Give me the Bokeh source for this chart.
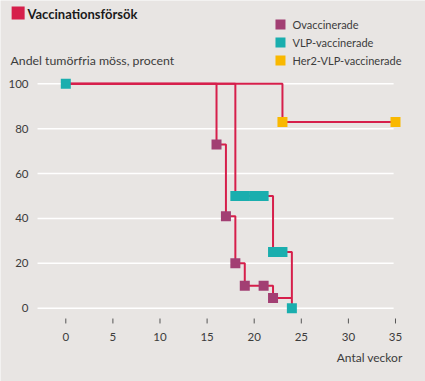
from bokeh.plotting import figure
from bokeh.models import Range1d
from bokeh.core.properties import value
from bokeh.embed import file_html
from bokeh.resources import INLINE

# ---- data ----
weeks_ovac = [0, 16, 17, 18, 19, 22, 24]
surv_ovac = [100, 73, 41, 20, 10, 4.5, 4.5]
mark_ovac_x = [16, 17, 18, 19, 21, 22]
mark_ovac_y = [73, 41, 20, 10, 10, 4.5]

weeks_vlp = [0, 18, 22, 24]
surv_vlp = [100, 50, 25, 0]
mark_vlp_x = [0, 18, 19, 20, 21, 22, 23, 24]
mark_vlp_y = [100, 50, 50, 50, 50, 25, 25, 0]

weeks_her2 = [0, 23, 35]
surv_her2 = [100, 83, 83]
mark_her2_x = [23, 35]
mark_her2_y = [83, 83]

x_ticks = [0, 5, 10, 15, 20, 25, 30, 35]
y_ticks = [0, 20, 40, 60, 80, 100]

series_names = ["Ovaccinerade", "VLP-vaccinerade", "Her2-VLP-vaccinerade"]
title_text = "Vaccinationsförsök"
y_title = "Andel tumörfria möss, procent"
x_title = "Antal veckor"

# ---- style ----
BG = "#e8e5e3"
LINE = "#d61f4b"
C_OVAC = "#a23f73"
C_VLP = "#1aaeae"
C_HER2 = "#f9b800"
series_colors = [C_OVAC, C_VLP, C_HER2]
TXT = "#3c3c3c"
FONT = value("Lato")
FS = value("11.5px")

p = figure(width=425, height=381, output_backend="svg", toolbar_location=None,
           x_range=Range1d(-6.932, 38.185), y_range=Range1d(-32.66, 137.12),
           x_axis_type=None, y_axis_type=None, min_border=0)
p.background_fill_color = BG
p.border_fill_color = BG
p.outline_line_color = None
p.grid.visible = False

# gridlines
p.segment(x0=-3.0, x1=34.8, y0=y_ticks, y1=y_ticks, line_color="white", line_width=1.5)

# x ticks and labels
p.segment(x0=x_ticks, x1=x_ticks, y0=-4.6, y1=-6.8, line_color="#555555", line_width=1)
p.text(x=x_ticks, y=-12.9, text=[str(t) for t in x_ticks], text_font=FONT, text_font_size=FS,
       text_color=TXT, text_align="center", text_baseline="middle")
# y labels
p.text(x=-3.96, y=y_ticks, text=[str(t) for t in y_ticks], text_font=FONT, text_font_size=FS,
       text_color=TXT, text_align="right", text_baseline="middle")

# step lines
for xs, ys in [(weeks_her2, surv_her2), (weeks_vlp, surv_vlp), (weeks_ovac, surv_ovac)]:
    p.step(xs, ys, mode="after", line_color=LINE, line_width=2)

p.scatter(mark_ovac_x, mark_ovac_y, marker="square", size=10, fill_color=C_OVAC, line_color=None)
p.scatter(mark_vlp_x, mark_vlp_y, marker="square", size=10, fill_color=C_VLP, line_color=None)
p.scatter(mark_her2_x, mark_her2_y, marker="square", size=10, fill_color=C_HER2, line_color=None)

# legend (drawn by hand so the keys keep the marker size)
leg_y = [126.4, 118.4, 110.4]
p.scatter(x=[22.79] * 3, y=leg_y, marker="square", size=10, fill_color=series_colors, line_color=None)
p.text(x=[24.06] * 3, y=leg_y, text=series_names, text_font=FONT, text_font_size=value("11px"),
       text_color=TXT, text_baseline="middle")

# titles
p.scatter(x=[-5.06], y=[131.6], marker="square", size=13, fill_color=LINE, line_color=None)
p.text(x=[-4.07], y=[131.3], text=[title_text], text_font=FONT, text_font_style="bold",
       text_font_size=value("13px"), text_color="#1a1a1a", text_baseline="middle")
p.text(x=[-5.87], y=[110.4], text=[y_title], text_font=FONT, text_font_size=value("12.3px"),
       text_color=TXT, text_baseline="middle")
p.text(x=[35.75], y=[-22.0], text=[x_title], text_font=FONT, text_font_size=value("12px"),
       text_color=TXT, text_baseline="middle", text_align="right")

open("out.html", "w").write(file_html(p, INLINE))
